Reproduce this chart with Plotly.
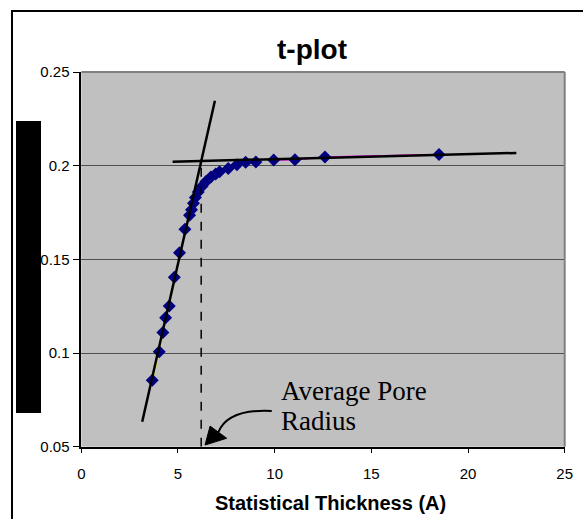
import plotly.graph_objects as go

# t-plot data: statistical thickness (A) vs adsorbed volume
t = [3.67, 4.03, 4.22, 4.36, 4.55, 4.81, 5.08, 5.36, 5.60, 5.70, 5.80, 5.90, 6.05,
     6.25, 6.45, 6.70, 6.95, 7.15, 7.60, 8.05, 8.50, 9.03, 9.95, 11.05, 12.6, 18.5]
v = [0.0855, 0.1007, 0.111, 0.1188, 0.1251, 0.1404, 0.1535, 0.166, 0.1735, 0.1765,
     0.180, 0.183, 0.186, 0.189, 0.1915, 0.194, 0.1955, 0.1968, 0.1985, 0.2005,
     0.2018, 0.202, 0.203, 0.2032, 0.2046, 0.206]

# fitted lines
steep_t = [3.15, 6.91]
steep_v = [0.0633, 0.2347]
flat_t = [4.72, 22.5]
flat_v = [0.2021, 0.2068]

pore_t = 6.2
pore_v = [0.05, 0.2]

x_ticks = [0, 5, 10, 15, 20, 25]
y_ticks = [0.05, 0.1, 0.15, 0.2, 0.25]

W, H = 583, 519
px = lambda x: x / W
py = lambda y: 1 - y / H

fig = go.Figure()
fig.add_trace(go.Scatter(x=t[:6], y=v[:6], mode="lines",
                         line=dict(color="#FFFF00", width=1.5)))
fig.add_trace(go.Scatter(x=t[-4:], y=v[-4:], mode="lines",
                         line=dict(color="#FF00FF", width=1.5)))
fig.add_trace(go.Scatter(x=t, y=v, mode="markers",
                         marker=dict(symbol="diamond", size=10, color="#000080")))
fig.add_trace(go.Scatter(x=steep_t, y=steep_v, mode="lines",
                         line=dict(color="black", width=2.5)))
fig.add_trace(go.Scatter(x=flat_t, y=flat_v, mode="lines",
                         line=dict(color="black", width=2.5)))
fig.add_trace(go.Scatter(x=[pore_t, pore_t], y=pore_v, mode="lines",
                         line=dict(color="black", width=1.5, dash="dash")))

fig.update_layout(
    width=W, height=H,
    margin=dict(l=0, r=0, t=0, b=0, pad=0),
    paper_bgcolor="white",
    plot_bgcolor="#C0C0C0",
    showlegend=False,
    font=dict(family="Arial, Liberation Sans", color="black"),
    xaxis=dict(domain=[px(81.3), px(564.7)], range=[0, 25], tickvals=x_ticks,
               ticks="outside", ticklen=5, tickcolor="black", showline=True,
               linecolor="black", linewidth=1.5, showgrid=False, zeroline=False,
               tickfont=dict(size=15), ticklabelstandoff=8, automargin=False),
    yaxis=dict(domain=[py(446.7), py(72)], range=[0.05, 0.25], tickvals=y_ticks,
               ticks="outside", ticklen=7, tickcolor="black", showline=True,
               linecolor="black", linewidth=1.5, showgrid=True, gridcolor="#505050",
               gridwidth=1, zeroline=False, tickfont=dict(size=15), automargin=False),
)

shapes = [
    # outer chart border (runs off the right and bottom edges)
    dict(type="rect", xref="paper", yref="paper", x0=px(12), x1=1.05, y0=-0.05, y1=py(11),
         line=dict(color="black", width=2)),
    # redacted y-axis title
    dict(type="rect", xref="paper", yref="paper", x0=px(16), x1=px(41), y0=py(413), y1=py(121),
         fillcolor="black", line=dict(width=0)),
    # top and right plot border
    dict(type="line", xref="x domain", yref="y domain", x0=0, x1=1, y0=1, y1=1,
         line=dict(color="#808080", width=2)),
    dict(type="line", xref="x domain", yref="y domain", x0=1, x1=1, y0=0, y1=1,
         line=dict(color="#808080", width=2)),
    # curved arrow
    dict(type="path", xref="x", yref="y", path="M 9.85,0.0691 Q 7.59,0.0703 7.09,0.0578",
         line=dict(color="black", width=2)),
    dict(type="path", xref="x", yref="y", path="M 6.40,0.0509 L 6.66,0.0610 L 7.52,0.0545 Z",
         fillcolor="black", line=dict(color="black", width=1)),
]
fig.update_layout(shapes=shapes)

fig.add_annotation(text="<b>t-plot</b>", xref="paper", yref="paper", x=px(312), y=py(50),
                   xanchor="center", yanchor="middle", showarrow=False, font=dict(size=28))
fig.add_annotation(text="<b>Statistical Thickness (A)</b>", xref="paper", yref="paper",
                   x=px(330), y=py(503), xanchor="center", yanchor="middle",
                   showarrow=False, font=dict(size=20))
fig.add_annotation(text="Average Pore", xref="x", yref="y", x=10.22, y=0.0797,
                   xanchor="left", yanchor="middle", showarrow=False,
                   font=dict(size=27, family="Times New Roman, Liberation Serif"))
fig.add_annotation(text="Radius", xref="x", yref="y", x=10.22, y=0.0637,
                   xanchor="left", yanchor="middle", showarrow=False,
                   font=dict(size=27, family="Times New Roman, Liberation Serif"))

fig.write_html("out.html", config={"displayModeBar": False},
               post_script="document.body.style.margin='0';")
